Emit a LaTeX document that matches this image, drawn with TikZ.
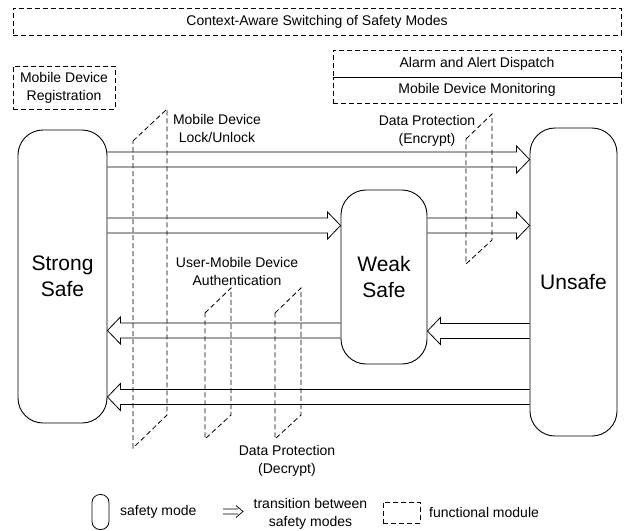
\documentclass[tikz,border=0pt]{standalone}
\usepackage{fontspec}
\setmainfont{Liberation Sans}
\usetikzlibrary{calc}

\tikzset{
  mode/.style={draw, line width=0.9pt, rounded corners=25pt, inner sep=0pt,
    font=\fontsize{21}{26}\selectfont, align=center},
  module/.style={draw, dash pattern=on 5pt off 3pt, line width=0.8pt, inner sep=0pt,
    font=\fontsize{14}{18}\selectfont, align=center},
  lbl/.style={font=\fontsize{14}{18}\selectfont, align=center, inner sep=0pt},
  modline/.style={dash pattern=on 5pt off 3pt, line width=0.8pt},
  transline/.style={line width=0.8pt, line join=miter},
}

% hollow block arrow from #1 to the tip #2 (both on the same horizontal line)
\newcommand{\transition}[2]{%
  \draw[transline] let \p1=(#1), \p2=(#2), \p3=($(\p2)!13pt!(\p1)$) in
    (\x1,\y1+7.5pt) -- (\x3,\y1+7.5pt) -- (\x3,\y1+13.5pt) -- (\p2)
    -- (\x3,\y1-13.5pt) -- (\x3,\y1-7.5pt) -- (\x1,\y1-7.5pt);
}

\begin{document}
\begin{tikzpicture}[x=1pt,y=-1pt]
\useasboundingbox (0,0) rectangle (633,531);

% safety modes
\node[mode, minimum width=89pt, minimum height=293pt] (ss) at (62.5,276.5) {Strong\\Safe};
\node[mode, minimum width=86pt, minimum height=174pt] (ws) at (384,277) {Weak\\Safe};
\node[mode, minimum width=87pt, minimum height=308pt] (us) at (573.5,282) {Unsafe};

% functional modules drawn as boxes
\node[module, minimum width=608pt, minimum height=27pt] (ctx) at (317,21.5) {Context-Aware Switching of Safety Modes};
\node[module, minimum width=102pt, minimum height=43pt] (reg) at (64,87.5) {Mobile Device\\Registration};
\node[module, minimum width=288pt, minimum height=27pt] (alarm) at (477,63.5) {Alarm and Alert Dispatch};
\node[module, minimum width=288pt, minimum height=26pt] (mon) at (477,90) {Mobile Device Monitoring};

% functional modules drawn as slanted planes across transitions
\draw[modline] (133,141) -- (167,109) -- (167,415) -- (133,448) -- cycle;
\draw[modline] (205,313) -- (231,288) -- (231,415) -- (205,439) -- cycle;
\draw[modline] (275,313) -- (301,288) -- (301,415) -- (275,439) -- cycle;
\draw[modline] (466,139) -- (492,114) -- (492,240) -- (466,264) -- cycle;

\node[lbl] (lockl) at (217,128) {Mobile Device\\Lock/Unlock};
\node[lbl] (encl) at (427,131) {Data Protection\\(Encrypt)};
\node[lbl] (authl) at (237,271.5) {User-Mobile Device\\Authentication};
\node[lbl] (decl) at (287,460.5) {Data Protection\\(Decrypt)};

% transitions between safety modes
\transition{ss.east |- 0,159.5}{us.west |- 0,159.5}
\transition{ss.east |- 0,225.5}{ws.west |- 0,225.5}
\transition{ws.east |- 0,225.5}{us.west |- 0,225.5}
\transition{ws.west |- 0,330.5}{ss.east |- 0,330.5}
\transition{us.west |- 0,331}{ws.east |- 0,331}
\transition{us.west |- 0,397}{ss.east |- 0,397}

% legend
\node[draw, line width=0.8pt, rounded corners=8pt, minimum width=17pt, minimum height=35pt, inner sep=0pt] (legmode) at (100.5,512) {};
\node[lbl, anchor=west] (legmodet) at (120,512) {safety mode};
\coordinate (lega) at (223,511.5);
\coordinate (legb) at (243,511.5);
\draw[line width=0.7pt] let \p1=(lega), \p2=(legb), \p3=($(\p2)!7pt!(\p1)$) in
  (\x1,\y1+2.5pt) -- (\x3+2pt,\y1+2.5pt) (\x1,\y1-2.5pt) -- (\x3+2pt,\y1-2.5pt)
  (\x3,\y1+6pt) -- (\p2) -- (\x3,\y1-6pt);
\node[lbl] (legtrt) at (310.5,513.5) {transition between\\safety modes};
\node[module, minimum width=37pt, minimum height=21pt] (legbox) at (401.5,512.5) {};
\node[lbl, anchor=west] (legboxt) at (429,512) {functional module};
\end{tikzpicture}
\end{document}
